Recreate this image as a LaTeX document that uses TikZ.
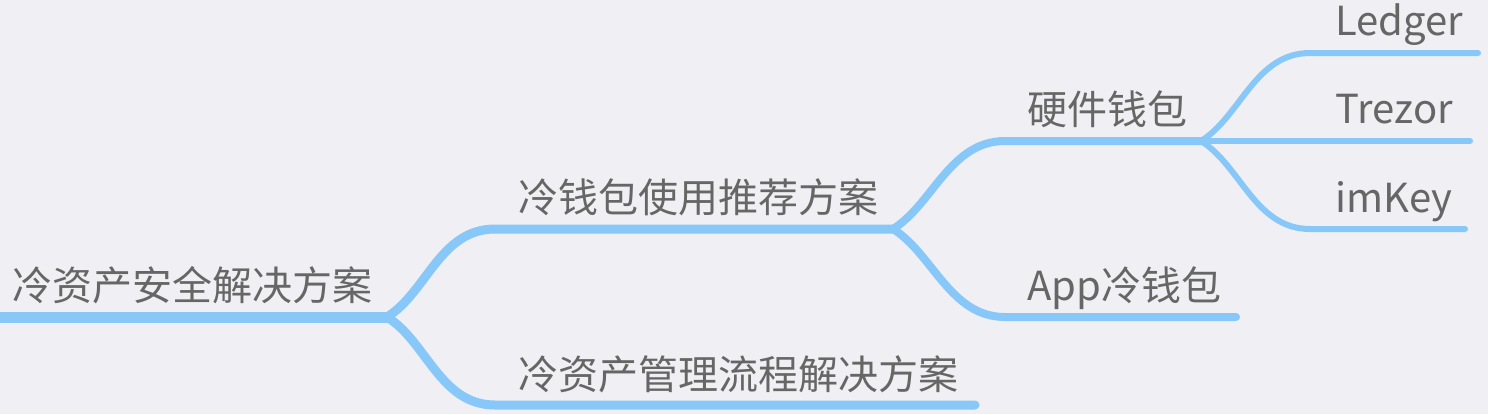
\documentclass[tikz,border=0pt]{standalone}
\usepackage{fontspec}
\newfontfamily\cjk{Noto Sans CJK SC}
\usepackage{xcolor}
\usetikzlibrary{calc}
\definecolor{bgc}{RGB}{239,239,244}
\definecolor{branch}{RGB}{136,200,248}
\definecolor{txt}{RGB}{102,102,102}
\begin{document}
\begin{tikzpicture}[x=0.5pt,y=-0.5pt,
  topic/.style={anchor=base west,inner sep=0pt,text=txt,font=\cjk\fontsize{20}{24}\selectfont},
  lv1/.style={draw=branch,line width=5.5pt,line cap=round},
  lv2/.style={draw=branch,line width=4.5pt,line cap=round},
  lv3/.style={draw=branch,line width=4pt,line cap=round},
  leaf/.style={draw=branch,line width=3pt,line cap=round}]
  \fill[bgc] (0,0) rectangle (1488,414); %背景
  \useasboundingbox (0,0) rectangle (1488,414);
  % 线的端点
  \coordinate (root-s) at (0,317);    \coordinate (root-e) at (387,317);
  \coordinate (plan-s) at (495,229);  \coordinate (plan-e) at (893,229);
  \coordinate (flow-s) at (495,405);  \coordinate (flow-e) at (975,405);
  \coordinate (hw-s) at (1005,141);   \coordinate (hw-e) at (1201,141);
  \coordinate (app-s) at (1005,317);  \coordinate (app-e) at (1236,317);
  \coordinate (ledger-s) at (1310,53); \coordinate (ledger-e) at (1478,53);
  \coordinate (trezor-e) at (1470,141);
  \coordinate (imkey-s) at (1310,229); \coordinate (imkey-e) at (1465,229);
  % 文字
  \node[topic] (root) at (12,300) {冷资产安全解决方案};
  \node[topic] (plan) at (518,212) {冷钱包使用推荐方案};
  \node[topic] (flow) at (518,389) {冷资产管理流程解决方案};
  \node[topic] (hw) at (1027,124) {硬件钱包};
  \node[topic] (app) at (1027,300) {App冷钱包};
  \node[topic] (ledger) at (1335,35) {Ledger};
  \node[topic] (trezor) at (1335,123) {Trezor};
  \node[topic] (imkey) at (1335,212) {imKey};
  % 分支
  \draw[lv2] (root-e) .. controls +(40,-25) and +(-55,0) .. (plan-s) -- (plan-e);
  \draw[lv2] (root-e) .. controls +(40,25) and +(-55,0) .. (flow-s) -- (flow-e);
  \draw[lv1] (root-s) -- (root-e);
  \draw[lv3] (plan-e) .. controls +(40,-25) and +(-55,0) .. (hw-s) -- (hw-e);
  \draw[lv3] (plan-e) .. controls +(40,25) and +(-55,0) .. (app-s) -- (app-e);
  \draw[leaf] (hw-e) .. controls +(40,-25) and +(-55,0) .. (ledger-s) -- (ledger-e);
  \draw[leaf] (hw-e) -- (trezor-e);
  \draw[leaf] (hw-e) .. controls +(40,25) and +(-55,0) .. (imkey-s) -- (imkey-e);
\end{tikzpicture}
\end{document}
